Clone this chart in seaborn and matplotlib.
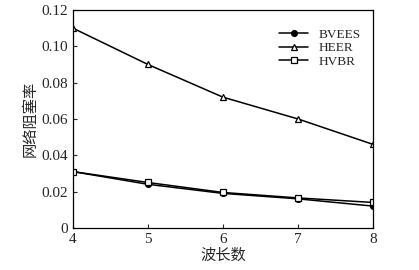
import pandas as pd
import matplotlib
matplotlib.use("Agg")
import matplotlib.pyplot as plt
import seaborn as sns

wavelengths = [4, 5, 6, 7, 8]
bvees = [0.031, 0.024, 0.019, 0.016, 0.012]
heer = [0.110, 0.090, 0.072, 0.060, 0.046]
hvbr = [0.031, 0.025, 0.0195, 0.0165, 0.014]

sns.set_style("ticks")
plt.rcParams["font.family"] = ["Liberation Serif", "Noto Sans CJK SC"]
plt.rcParams["xtick.direction"] = "in"
plt.rcParams["ytick.direction"] = "in"

fig = plt.figure(figsize=(4.19, 2.70), dpi=100)
ax = fig.add_axes([0.174, 0.156, 0.716, 0.807])

series = [("BVEES", bvees, "o", "black"),
          ("HEER", heer, "^", "white"),
          ("HVBR", hvbr, "s", "white")]
for name, vals, mk, fc in series:
    df = pd.DataFrame({"x": wavelengths, "y": vals})
    sns.lineplot(data=df, x="x", y="y", ax=ax, color="black", lw=1.1,
                 marker=mk, markersize=4.2, markerfacecolor=fc,
                 markeredgecolor="black", markeredgewidth=0.9, label=name)

ax.set_xlim(4, 8)
ax.set_ylim(0, 0.12)
ax.set_xticks([4, 5, 6, 7, 8])
ax.set_yticks([0, 0.02, 0.04, 0.06, 0.08, 0.10, 0.12])
ax.set_yticklabels(["0", "0.02", "0.04", "0.06", "0.08", "0.10", "0.12"])
ax.tick_params(labelsize=11, length=3, width=0.8)
for s in ax.spines.values():
    s.set_linewidth(0.9)
    s.set_color("black")
ax.set_xlabel("波长数", fontsize=11, family=["Noto Sans CJK SC"], labelpad=1)
ax.set_ylabel("网络阻塞率", fontsize=11, family=["Noto Sans CJK SC"], labelpad=2)
ax.legend(loc="upper right", frameon=False, fontsize=9.5, handlelength=2.2,
          labelspacing=0.1, bbox_to_anchor=(1.0, 0.97))

fig.savefig("out.png", dpi=100)
